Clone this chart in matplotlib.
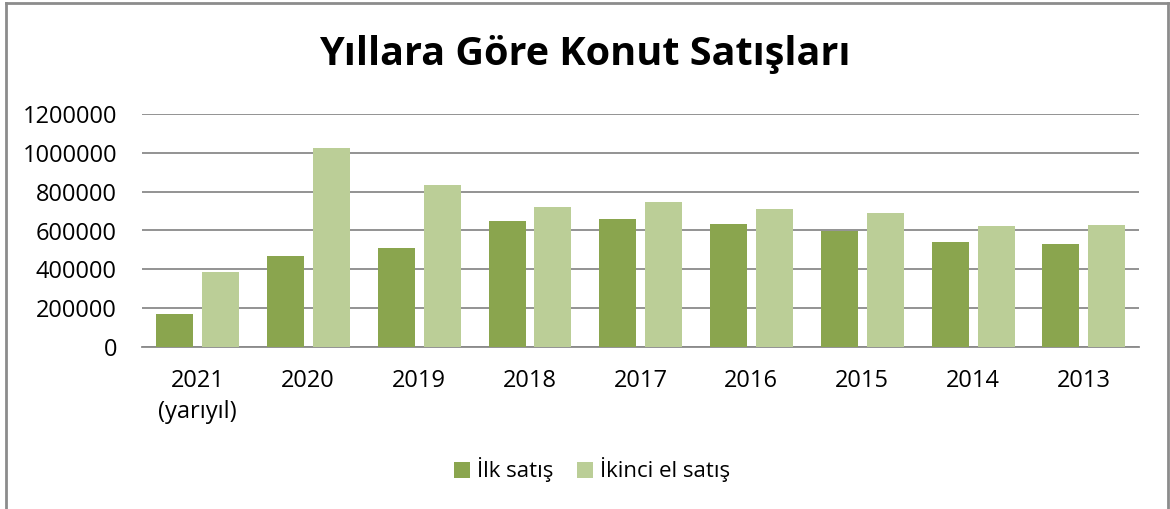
import matplotlib
matplotlib.use("Agg")
import matplotlib.pyplot as plt
import numpy as np
from matplotlib.patches import Patch

plt.rcParams["font.family"] = ["Open Sans", "DejaVu Sans"]

years = ["2021\n(yarıyıl)", "2020", "2019", "2018", "2017", "2016", "2015", "2014", "2013"]
ilk_satis = [168000, 471000, 512000, 651000, 659000, 632000, 599000, 539000, 529000]
ikinci_el = [385000, 1025000, 834000, 723000, 747000, 709000, 689000, 622000, 627000]
y_ticks = [0, 200000, 400000, 600000, 800000, 1000000, 1200000]

DARK = "#8AA54E"
LIGHT = "#BBCE97"
GRID = "#8A8A8A"

W, H = 1170, 509
fig = plt.figure(figsize=(W / 100, H / 100), dpi=100)
fig.patch.set_facecolor("white")

ax = fig.add_axes([142 / W, 162 / H, (1139 - 142) / W, 233 / H])

x = np.arange(len(years))
bw = 0.334
ax.bar(x - 0.205, ilk_satis, width=bw, color=DARK, edgecolor="none", zorder=3)
ax.bar(x + 0.21, ikinci_el, width=bw, color=LIGHT, edgecolor="none", zorder=3)

ax.set_xlim(-0.5, len(years) - 0.5)
ax.set_ylim(0, 1200000)
ax.set_yticks(y_ticks)
ax.set_yticklabels([str(v) for v in y_ticks])
ax.set_xticks(x)
ax.set_xticklabels(years, linespacing=1.4)
ax.tick_params(axis="y", length=0, pad=18, labelsize=17, colors="black")
ax.tick_params(axis="x", length=0, pad=16, labelsize=17, colors="black")

ax.yaxis.grid(True, color=GRID, linewidth=1.3, zorder=0)
ax.set_axisbelow(True)
for s in ["top", "right", "left"]:
    ax.spines[s].set_visible(False)
ax.spines["bottom"].set_color(GRID)
ax.spines["bottom"].set_linewidth(1.3)

fig.text(0.5, 1 - 55 / H, "Yıllara Göre Konut Satışları", ha="center", va="center",
         fontsize=28.5, fontweight="bold", color="black")

handles = [Patch(facecolor=DARK, edgecolor="none", label="İlk satış"),
           Patch(facecolor=LIGHT, edgecolor="none", label="İkinci el satış")]
fig.legend(handles=handles, loc="center", bbox_to_anchor=(592 / W, 1 - 470 / H),
           ncol=2, frameon=False, fontsize=16, handlelength=0.7, handleheight=0.7,
           handletextpad=0.3, columnspacing=1.1)

# outer chart border (bottom edge is cut off in the reference)
border = dict(color="#8C8C8C", linewidth=2, transform=fig.transFigure)
fig.add_artist(plt.Line2D([5.5 / W, 5.5 / W], [0, 1 - 2.5 / H], **border))
fig.add_artist(plt.Line2D([5.5 / W, 1167.5 / W], [1 - 2.5 / H, 1 - 2.5 / H], **border))
fig.add_artist(plt.Line2D([1167.5 / W, 1167.5 / W], [0, 1 - 2.5 / H], **border))

fig.savefig("out.png", dpi=100, facecolor="white")
